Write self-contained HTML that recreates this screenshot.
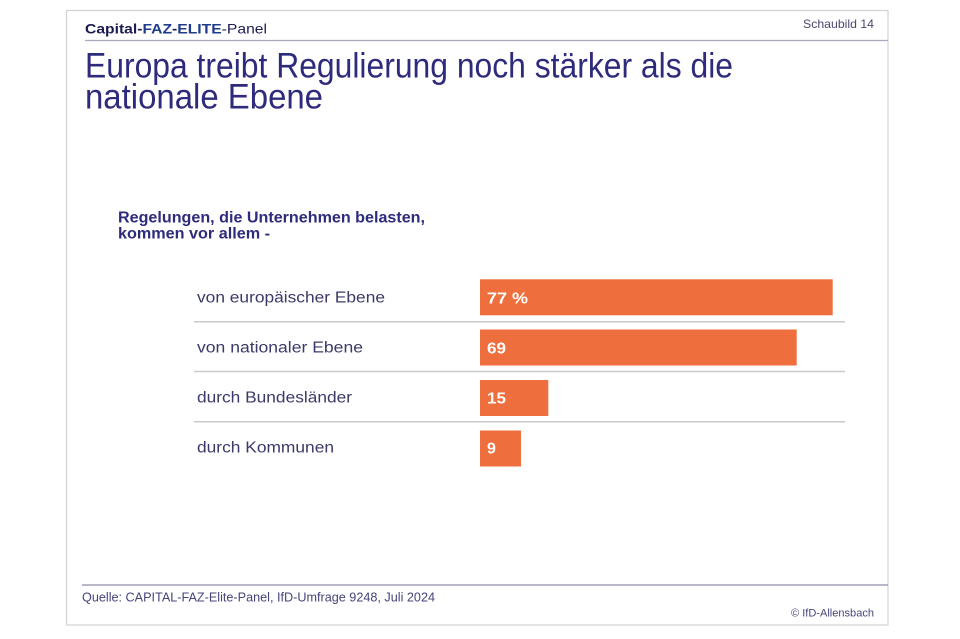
<!DOCTYPE html>
<html>
<head>
<meta charset="utf-8">
<style>
  html, body { margin: 0; padding: 0; background: #ffffff; }
  body { width: 960px; height: 639px; overflow: hidden; }
  svg { display: block; }
  text { font-family: "Liberation Sans", "DejaVu Sans", sans-serif; }
</style>
</head>
<body>
<svg width="960" height="639" viewBox="0 0 960 639" xmlns="http://www.w3.org/2000/svg">
  <rect x="0" y="0" width="960" height="639" fill="#ffffff"/>
  <!-- frame -->
  <rect x="66.5" y="10.5" width="821.5" height="614.5" fill="#ffffff" stroke="#d2d2d6" stroke-width="1.2"/>

  <!-- header -->
  <text x="85" y="33.3" font-size="13.8" textLength="182" lengthAdjust="spacingAndGlyphs"><tspan font-weight="bold" fill="#1c1b52">Capital-</tspan><tspan font-weight="bold" fill="#1f3b8c">FAZ</tspan><tspan font-weight="bold" fill="#1c1b52">-</tspan><tspan font-weight="bold" fill="#1f3b8c">ELITE</tspan><tspan fill="#1c1b52">-Panel</tspan></text>
  <text x="803" y="28" font-size="12" fill="#4a4870" textLength="71" lengthAdjust="spacingAndGlyphs">Schaubild 14</text>
  <line x1="85" y1="40.5" x2="888" y2="40.5" stroke="#a9a8bc" stroke-width="1.2"/>

  <!-- title -->
  <text x="85" y="77.3" font-size="35" fill="#2e2a7c" textLength="648" lengthAdjust="spacingAndGlyphs">Europa treibt Regulierung noch stärker als die</text>
  <text x="85" y="108.3" font-size="35" fill="#2e2a7c" textLength="238" lengthAdjust="spacingAndGlyphs">nationale Ebene</text>

  <!-- subtitle -->
  <text x="118" y="222.3" font-size="15.5" font-weight="bold" fill="#2e2a7c" textLength="307" lengthAdjust="spacingAndGlyphs">Regelungen, die Unternehmen belasten,</text>
  <text x="118" y="238.5" font-size="15.5" font-weight="bold" fill="#2e2a7c" textLength="152" lengthAdjust="spacingAndGlyphs">kommen vor allem -</text>

  <!-- separators -->
  <line x1="194" y1="321.7" x2="845" y2="321.7" stroke="#c9c9cf" stroke-width="1.5"/>
  <line x1="194" y1="371.5" x2="845" y2="371.5" stroke="#c9c9cf" stroke-width="1.5"/>
  <line x1="194" y1="421.7" x2="845" y2="421.7" stroke="#c9c9cf" stroke-width="1.5"/>

  <!-- labels -->
  <text x="197" y="302.7" font-size="15.5" fill="#3b3968" textLength="188" lengthAdjust="spacingAndGlyphs">von europäischer Ebene</text>
  <text x="197" y="352.3" font-size="15.5" fill="#3b3968" textLength="166" lengthAdjust="spacingAndGlyphs">von nationaler Ebene</text>
  <text x="197" y="402.7" font-size="15.5" fill="#3b3968" textLength="155" lengthAdjust="spacingAndGlyphs">durch Bundesländer</text>
  <text x="197" y="452.7" font-size="15.5" fill="#3b3968" textLength="137" lengthAdjust="spacingAndGlyphs">durch Kommunen</text>

  <!-- bars -->
  <rect x="480" y="279.3" width="352.7" height="36" fill="#ef6e3e"/>
  <rect x="480" y="329.5" width="316.7" height="36" fill="#ef6e3e"/>
  <rect x="480" y="380" width="68.3" height="36" fill="#ef6e3e"/>
  <rect x="480" y="430.5" width="41" height="36" fill="#ef6e3e"/>

  <!-- values -->
  <text x="487" y="303.3" font-size="16" font-weight="bold" fill="#ffffff" textLength="41" lengthAdjust="spacingAndGlyphs">77 %</text>
  <text x="487" y="353.3" font-size="16" font-weight="bold" fill="#ffffff" textLength="19" lengthAdjust="spacingAndGlyphs">69</text>
  <text x="487" y="403.5" font-size="16" font-weight="bold" fill="#ffffff" textLength="19" lengthAdjust="spacingAndGlyphs">15</text>
  <text x="487" y="453.3" font-size="16" font-weight="bold" fill="#ffffff">9</text>

  <!-- footer -->
  <line x1="82" y1="585" x2="888" y2="585" stroke="#8e8daa" stroke-width="1.2"/>
  <text x="82" y="601.7" font-size="13" fill="#46447a" textLength="353" lengthAdjust="spacingAndGlyphs">Quelle: CAPITAL-FAZ-Elite-Panel, IfD-Umfrage 9248, Juli 2024</text>
  <text x="791" y="616.7" font-size="11" fill="#46447a" textLength="83" lengthAdjust="spacingAndGlyphs">© IfD-Allensbach</text>
</svg>
</body>
</html>
